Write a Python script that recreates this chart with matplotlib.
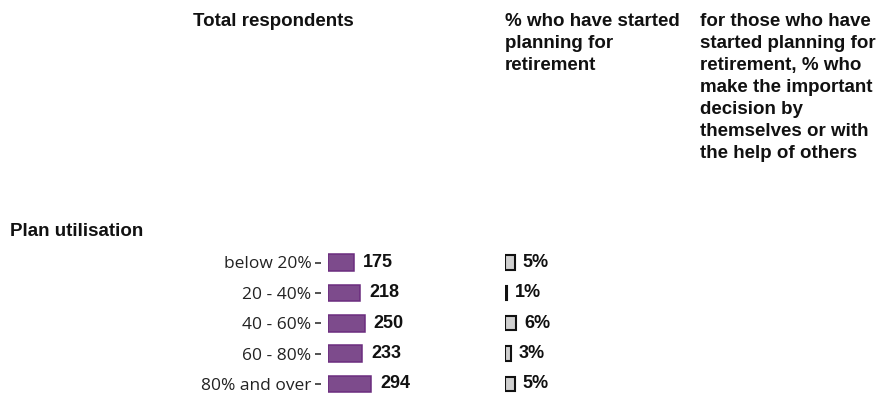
import matplotlib
matplotlib.use("Agg")
import matplotlib.pyplot as plt

categories = ["below 20%", "20 - 40%", "40 - 60%", "60 - 80%", "80% and over"]
respondents = [175, 218, 250, 233, 294]
started_pct = [5, 1, 6, 3, 5]

header1 = "Total respondents"
header2 = "% who have started\nplanning for\nretirement"
header3 = ("for those who have\nstarted planning for\nretirement, % who\nmake the important\n"
           "decision by\nthemselves or with\nthe help of others")
group_label = "Plan utilisation"

W, H = 879, 394
fig = plt.figure(figsize=(W / 100, H / 100), dpi=100)
fig.patch.set_facecolor("white")

HEAD_FONT = "Liberation Sans"
LAB_FONT = "Open Sans"
NUM_FONT = "Liberation Sans"

def px_rect(left, top, width, height):
    return [left / W, 1 - (top + height) / H, width / W, height / H]

pitch = 30.35
row0 = 262.5
ax_top, ax_bot = 240, 394
ylim = ((ax_bot - row0) / pitch, -(row0 - ax_top) / pitch)

ypos = list(range(len(categories)))

ax1 = fig.add_axes(px_rect(328, ax_top, 147, ax_bot - ax_top))
ax1.barh(ypos, respondents, height=0.55, color="#7d4b8c", edgecolor="#6b2c7e",
         linewidth=1.1, align="center")
ax1.set_xlim(0, 1000)
ax1.set_ylim(*ylim)
ax1.tick_params(axis="y", length=4, width=1.2, color="#333333", pad=3)
ax1.tick_params(axis="x", bottom=False, labelbottom=False)
ax1.spines["left"].set_position(("outward", 5))
for s in ax1.spines.values():
    s.set_visible(False)
ax1.set_yticks(ypos)
ax1.set_yticklabels(categories)
for t in ax1.get_yticklabels():
    t.set_fontfamily(LAB_FONT)
    t.set_fontsize(12.5)
    t.set_color("#222222")
ax1.patch.set_alpha(0)
for y, v in zip(ypos, respondents):
    ax1.annotate(str(v), (v, y), xytext=(6.5, 0), textcoords="offset points",
                 va="center", ha="left", fontfamily=NUM_FONT, fontweight="bold",
                 fontsize=13, color="#111111")

ax2 = fig.add_axes(px_rect(505, ax_top, 190, ax_bot - ax_top))
ax2.barh(ypos, started_pct, height=0.47, color="#d0d0d0", edgecolor="#111111",
         linewidth=1.5, align="center")
ax2.set_xlim(0, 100)
ax2.set_ylim(*ylim)
ax2.set_xticks([])
ax2.set_yticks([])
for s in ax2.spines.values():
    s.set_visible(False)
ax2.patch.set_alpha(0)
for y, v in zip(ypos, started_pct):
    ax2.annotate(f"{v}%", (v, y), xytext=(5.5, 0), textcoords="offset points",
                 va="center", ha="left", fontfamily=NUM_FONT, fontweight="bold",
                 fontsize=13, color="#111111")

def fig_text(xpx, ypx, s, **kw):
    fig.text(xpx / W, 1 - ypx / H, s, **kw)

hkw = dict(fontfamily=HEAD_FONT, fontweight="bold", fontsize=13.5, color="#111111",
           va="top", ha="left", linespacing=1.38)
fig_text(193, 13, header1, **hkw)
fig_text(505, 13, header2, **hkw)
fig_text(700, 13, header3, **hkw)
fig_text(10, 231.5, group_label, fontfamily=HEAD_FONT, fontweight="bold", fontsize=13.5,
         color="#111111", va="center", ha="left")

fig.savefig("out.png", dpi=100, facecolor="white")
